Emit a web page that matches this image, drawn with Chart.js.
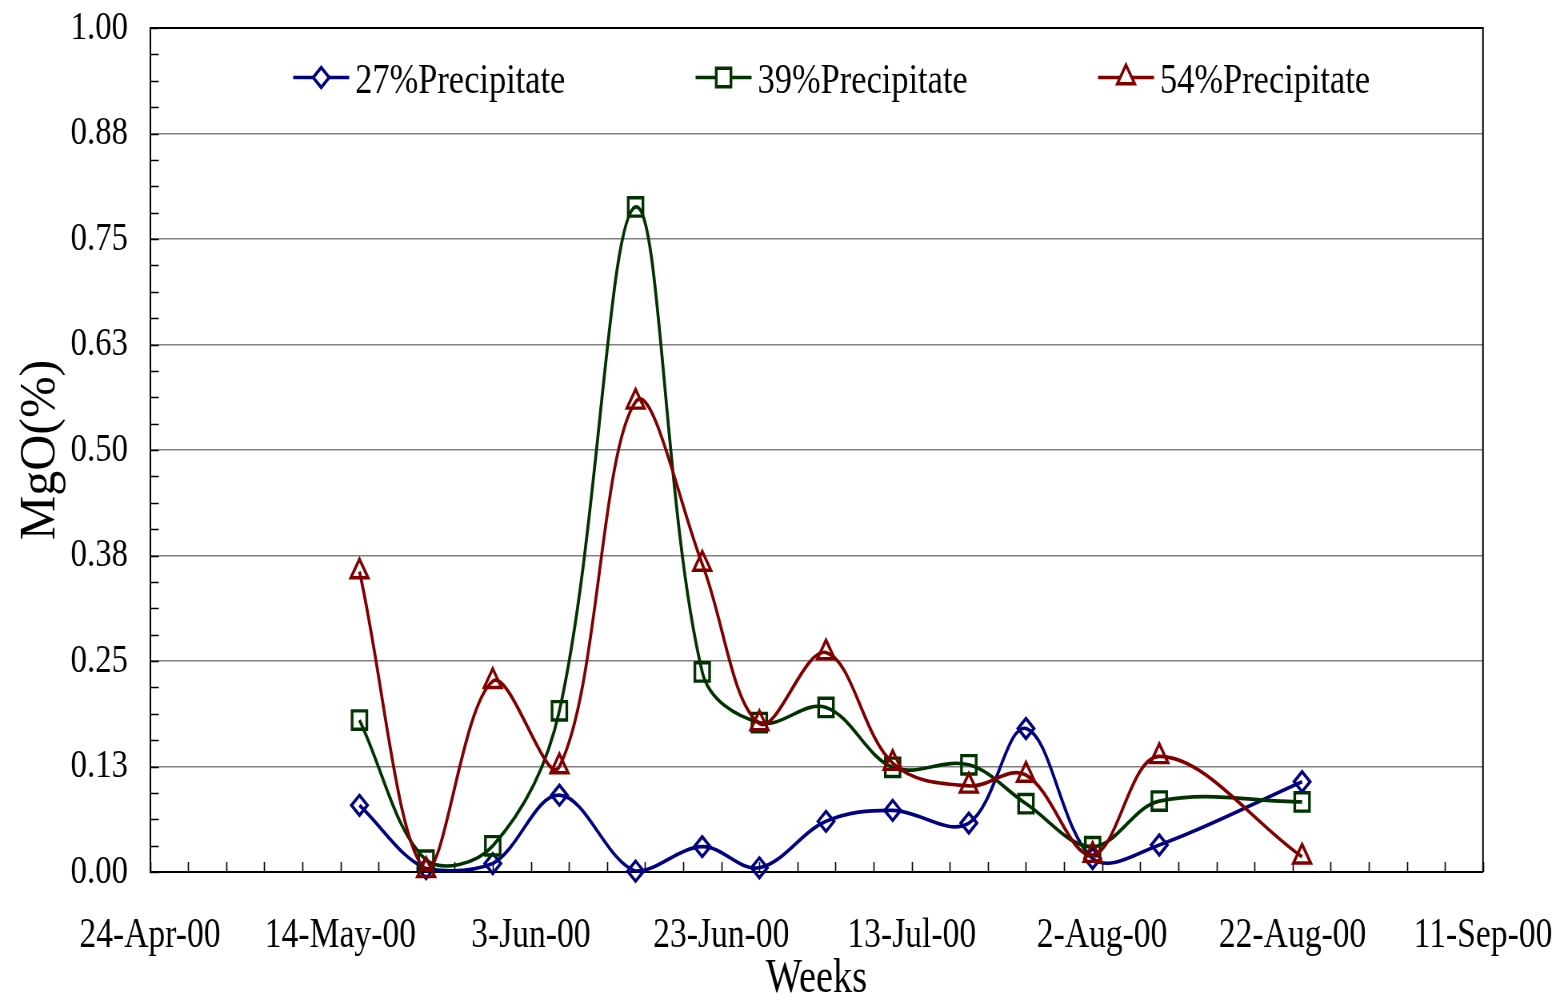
<!DOCTYPE html>
<html>
<head>
<meta charset="utf-8">
<title>MgO in precipitate</title>
<script src="https://cdn.jsdelivr.net/npm/chart.js@4/dist/chart.umd.min.js"></script>
<style>
  html, body { margin: 0; padding: 0; background: #ffffff; overflow: hidden; }
  /* the chart is drawn wide and narrowed horizontally, giving the condensed serif look */
  #wrap { width: 1957px; height: 1005px; transform: scaleX(0.8); transform-origin: 0 0; }
  #c { display: block; }
</style>
</head>
<body>
<div id="wrap"><canvas id="c" width="1957" height="1005"></canvas></div>
<script>
// ---- data -------------------------------------------------------------
const startDate = '2000-04-24';
const sampleDates = [
  '2000-05-16', '2000-05-23', '2000-05-30', '2000-06-06', '2000-06-14',
  '2000-06-21', '2000-06-27', '2000-07-04', '2000-07-11', '2000-07-19',
  '2000-07-25', '2000-08-01', '2000-08-08', '2000-08-23'
];
const seriesNames = ['27%Precipitate', '39%Precipitate', '54%Precipitate'];
const mgo27 = [0.079, 0.004, 0.010, 0.091, 0.001, 0.030, 0.005, 0.060, 0.073, 0.058, 0.170, 0.016, 0.032, 0.107];
const mgo39 = [0.180, 0.014, 0.031, 0.191, 0.788, 0.237, 0.177, 0.195, 0.124, 0.127, 0.081, 0.030, 0.084, 0.083];
const mgo54 = [0.356, 0.002, 0.226, 0.125, 0.557, 0.365, 0.176, 0.260, 0.129, 0.102, 0.115, 0.020, 0.137, 0.018];
const xTickLabels = ['24-Apr-00', '14-May-00', '3-Jun-00', '23-Jun-00', '13-Jul-00', '2-Aug-00', '22-Aug-00', '11-Sep-00'];
const xTitle = 'Weeks';
const yTitle = 'MgO(%)';

// ---- helpers ----------------------------------------------------------
const DAY = 86400000;
const daysFromStart = d => Math.round((Date.parse(d) - Date.parse(startDate)) / DAY);
const toPoints = values => sampleDates.map((d, i) => ({ x: daysFromStart(d), y: values[i] }));

const SQUEEZE = 0.8;           // horizontal scale applied to the canvas by CSS
const SERIF = '"Liberation Serif", "Times New Roman", serif';

// ---- plugins ----------------------------------------------------------
// inward tick marks on both axes plus the top/right frame of the plot area
const plotFrame = {
  id: 'plotFrame',
  beforeDatasetsDraw(chart) {
    const { ctx, chartArea: a, scales: { x, y } } = chart;
    ctx.save();
    ctx.strokeStyle = '#000000';
    ctx.lineWidth = 2;
    ctx.beginPath();
    ctx.moveTo(a.left, a.top);
    ctx.lineTo(a.right, a.top);
    ctx.lineTo(a.right, a.bottom);
    ctx.stroke();

    ctx.lineWidth = 1.6;
    ctx.beginPath();
    for (let d = x.min; d <= x.max + 1e-9; d += 4) {
      const px = Math.round(x.getPixelForValue(d)) + 0.5;
      ctx.moveTo(px, a.bottom);
      ctx.lineTo(px, a.bottom - 10);
    }
    ctx.stroke();
    ctx.lineWidth = 1.5;
    ctx.beginPath();
    for (let v = y.min; v <= y.max + 1e-9; v += 0.03125) {
      const py = Math.round(y.getPixelForValue(v)) + 0.5;
      ctx.moveTo(a.left, py);
      ctx.lineTo(a.left + 11, py);
    }
    ctx.stroke();
    ctx.restore();
  }
};

// legend inside the plot area: line sample with marker, then the series name
const inlineLegend = {
  id: 'inlineLegend',
  afterDraw(chart) {
    const { ctx, chartArea: a } = chart;
    const first = a.left + 179;
    const pitch = 503;
    const lineY = 77.5;
    ctx.save();
    chart.data.datasets.forEach((ds, i) => {
      const x0 = first + i * pitch;
      ctx.strokeStyle = ds.borderColor;
      ctx.lineWidth = 3.4;
      ctx.beginPath();
      ctx.moveTo(x0, lineY);
      ctx.lineTo(x0 + 70, lineY);
      ctx.stroke();
      ctx.fillStyle = '#ffffff';
      ctx.lineWidth = ds.pointBorderWidth;
      Chart.helpers.drawPoint(ctx, {
        pointStyle: ds.pointStyle, radius: ds.pointRadius,
        borderWidth: ds.pointBorderWidth, rotation: 0
      }, x0 + 35, lineY);
      ctx.fillStyle = '#000000';
      ctx.font = '43px ' + SERIF;
      ctx.textAlign = 'left';
      ctx.textBaseline = 'alphabetic';
      ctx.fillText(ds.label, x0 + 77.5, 92.7);
    });
    ctx.restore();
  }
};

// rotated value-axis title, drawn at its natural width
const valueTitle = {
  id: 'valueTitle',
  afterDraw(chart) {
    const { ctx, chartArea: a } = chart;
    ctx.save();
    ctx.translate(54 / SQUEEZE, (a.top + a.bottom) / 2);
    ctx.scale(1 / SQUEEZE, 1);
    ctx.rotate(-Math.PI / 2);
    ctx.fillStyle = '#000000';
    ctx.font = '50px ' + SERIF;
    ctx.textAlign = 'center';
    ctx.textBaseline = 'alphabetic';
    ctx.fillText(yTitle, 0, 0);
    ctx.restore();
  }
};

// ---- chart ------------------------------------------------------------
const styles = [
  { color: '#000080', point: 'rectRot', radius: 10, order: 3 },
  { color: '#003300', point: 'rect', radius: 13, order: 2 },
  { color: '#800000', point: 'triangle', radius: 12.5, order: 1 }
];
const seriesValues = [mgo27, mgo39, mgo54];

const datasets = seriesValues.map((vals, i) => ({
  label: seriesNames[i],
  data: toPoints(vals),
  borderColor: styles[i].color,
  backgroundColor: 'rgba(0,0,0,0)',
  borderWidth: 3.7,
  tension: 0.36,
  pointStyle: styles[i].point,
  pointRadius: styles[i].radius,
  pointHoverRadius: styles[i].radius,
  pointBorderWidth: 3.4,
  pointBorderColor: styles[i].color,
  pointBackgroundColor: 'rgba(0,0,0,0)',
  order: styles[i].order,
  clip: false
}));

// fixed axis boxes; label overhang must not shrink the plot area
const fixBox = (w, h) => s => {
  if (w !== null) s.width = w;
  if (h !== null) s.height = h;
  s.paddingLeft = 0; s.paddingRight = 0; s.paddingTop = 0; s.paddingBottom = 0;
};

new Chart(document.getElementById('c'), {
  type: 'line',
  data: { datasets },
  plugins: [plotFrame, inlineLegend, valueTitle],
  options: {
    responsive: false,
    maintainAspectRatio: false,
    animation: false,
    devicePixelRatio: 1,
    layout: { padding: { left: 0, right: 103.25, top: 28, bottom: 0 } },
    plugins: { legend: { display: false }, tooltip: { enabled: false } },
    scales: {
      x: {
        type: 'linear',
        min: 0,
        max: 140,
        offset: false,
        grid: { display: false, drawTicks: false },
        border: { display: true, color: '#000000', width: 2 },
        ticks: {
          stepSize: 20,
          autoSkip: false,
          maxRotation: 0,
          padding: 38.6,
          color: '#000000',
          font: { family: SERIF, size: 42 },
          callback: v => xTickLabels[Math.round(v / 20)] ?? ''
        },
        title: {
          display: true,
          text: xTitle,
          color: '#000000',
          font: { family: SERIF, size: 48 },
          padding: { top: 0, bottom: -3 }
        },
        afterFit: fixBox(null, 133)
      },
      y: {
        min: 0,
        max: 1,
        grid: { color: '#808080', lineWidth: 1.5, drawTicks: false },
        border: { display: true, color: '#000000', width: 2 },
        ticks: {
          stepSize: 0.125,
          padding: 27.5,
          color: '#000000',
          font: { family: SERIF, size: 41 },
          callback: v => v.toFixed(2)
        },
        afterFit: fixBox(187.5, null)
      }
    }
  }
});
</script>
</body>
</html>
